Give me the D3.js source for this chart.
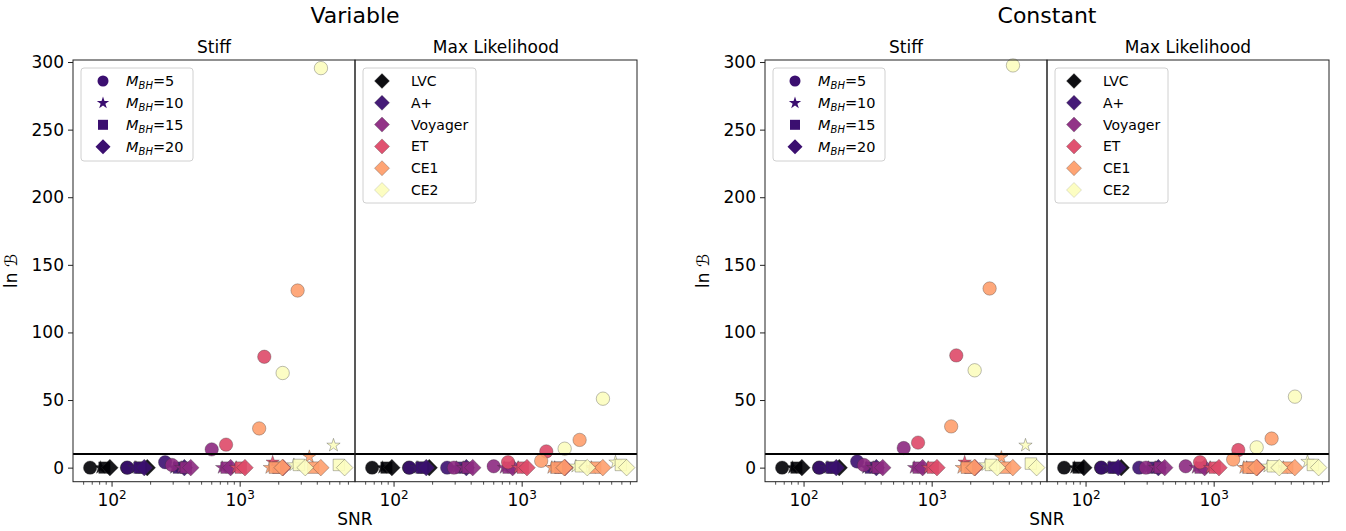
<!DOCTYPE html>
<html><head><meta charset="utf-8">
<script src="https://cdn.jsdelivr.net/npm/d3@7"></script>
<style>body{margin:0;background:#fff} text{font-family:"DejaVu Sans",sans-serif;fill:#000}</style>
</head><body><svg id="c" width="1346" height="531"></svg>
<script>
// ---------------- data ----------------
const detectors = ["LVC", "A+", "Voyager", "ET", "CE1", "CE2"];
const detectorColors = ["#000004", "#3b0f70", "#8c2981", "#de4968", "#fe9f6d", "#fcfdbf"];
const massValues = [5, 10, 15, 20];
const massShapes = ["circle", "star", "square", "diamond"];
// point order per detector: config 1 (M=5,10,15,20), config 2 (M=5,10,15,20)
const snrLVC     = [68, 82, 88, 97, 132, 155, 170, 190];
const snrAplus   = [133, 152, 165, 180, 262, 310, 335, 370];
const snrVoyager = [296, 350, 380, 415, 605, 730, 790, 850];
const snrET      = [783, 940, 1020, 1100, 1557, 1810, 2000, 2180];
const snrCE1     = [1420, 1720, 1880, 2150, 2834, 3500, 3750, 4300];
const snrCE2     = [2166, 2650, 2900, 3250, 4311, 5400, 5950, 6600];
const snrTable = [snrLVC, snrAplus, snrVoyager, snrET, snrCE1, snrCE2];

const lnbVariableStiff = [
  [0, 0, 0, 0, 0, 0, 0, 0],
  [0, 0, 0, 0, 4, 0, 0, 0],
  [2, 0, 0, 0, 13.5, 0, 0, 0],
  [17, 0, 0, 0, 82, 4, 0, 0],
  [29, 0, 0, 0, 131, 8, 0, 0],
  [70, 2, 2, 0, 295.5, 16.5, 2, 0]];
const lnbVariableML = [
  [0, 0, 0, 0, 0, 0, 0, 0],
  [0, 0, 0, 0, 0, 0, 0, 0],
  [0, 0, 0, 0, 1, 0, 0, 0],
  [4, 0, 0, 0, 12, 0, 0, 0],
  [5, 0, 0, 0, 20.5, 0, 0, 0],
  [14, 1, 1, 0, 51, 4, 2, 0]];
const lnbConstantStiff = [
  [0, 0, 0, 0, 0, 0, 0, 0],
  [0, 0, 0, 0, 4.5, 0, 0, 0],
  [2, 0, 0, 0, 14.5, 0, 0, 0],
  [18.5, 0, 0, 0, 83, 4, 0, 0],
  [30.5, 0, 0, 0, 132.5, 7.5, 0, 0],
  [72, 2, 2, 0, 297.5, 16.5, 3, 0]];
const lnbConstantML = [
  [0, 0, 0, 0, 0, 0, 0, 0],
  [0, 0, 0, 0, 0, 0, 0, 0],
  [0, 0, 0, 0, 1, 0, 0, 0],
  [4, 0, 0, 0, 13, 0, 0, 0],
  [6, 0, 0, 0, 21.5, 0, 0, 0],
  [15, 1, 1, 0, 52.5, 4.5, 2, 0]];
const threshold = 10;
const figureTitles = ["Variable", "Constant"];
const panelTitles = ["Stiff", "Max Likelihood"];
const yTicks = [0, 50, 100, 150, 200, 250, 300];
const xMajorTicks = [100, 1000];
const xMinorTicks = [60, 70, 80, 90, 200, 300, 400, 500, 600, 700, 800, 900, 2000, 3000, 4000, 5000, 6000, 7000];

// ---------------- drawing ----------------
const svg = d3.select("#c");
const yTop = 60, yBot = 481.7, pw = 282;
const y = d3.scaleLinear().domain([-10.4, 301.5]).range([yBot, yTop]);

function symPath(shape, s) {
  if (shape === "circle") return d3.symbol(d3.symbolCircle, Math.PI * s * s)();
  if (shape === "star") return d3.symbol(d3.symbolStar, s * s / 0.8908)();
  if (shape === "square") return d3.symbol(d3.symbolSquare, s * s)();
  return `M0,${-s}L${s},0L0,${s}L${-s},0Z`;
}
const plotSize = {circle: 6.7, star: 7, square: 11.5, diamond: 8.3};
const legSize = {circle: 5.5, star: 6.5, square: 10, diamond: 7.5};

const figs = [
  {title: figureTitles[0], x0: 73, lnb: [lnbVariableStiff, lnbVariableML]},
  {title: figureTitles[1], x0: 765, lnb: [lnbConstantStiff, lnbConstantML]}];

figs.forEach(fig => {
  const g = svg.append("g");
  const cx = fig.x0 + pw;
  g.append("text").attr("x", cx).attr("y", 23).attr("text-anchor", "middle")
    .attr("font-size", 22).text(fig.title);
  g.append("text").attr("x", cx).attr("y", 525).attr("text-anchor", "middle")
    .attr("font-size", 17).text("SNR");
  g.append("text").attr("transform", `translate(${fig.x0 - 56},${(yTop + yBot) / 2}) rotate(-90)`)
    .attr("text-anchor", "middle").attr("font-size", 17).text("ln \u212C");

  fig.lnb.forEach((lnb, pi) => {
    const px = fig.x0 + pi * pw;
    const x = d3.scaleLog().domain([50, 7950]).range([px, px + pw]);
    const pg = g.append("g");
    pg.append("text").attr("x", px + pw / 2).attr("y", 53).attr("text-anchor", "middle")
      .attr("font-size", 17).text(panelTitles[pi]);

    const pts = [];
    detectors.forEach((d, di) => {
      snrTable[di].forEach((s, k) => {
        pts.push({di, shape: massShapes[k % 4], snr: s, lnb: lnb[di][k]});
      });
    });
    pg.selectAll("path.pt").data(pts).join("path").attr("class", "pt")
      .attr("transform", d => `translate(${x(d.snr)},${y(d.lnb)})`)
      .attr("d", d => symPath(d.shape, plotSize[d.shape]))
      .attr("fill", d => detectorColors[d.di]).attr("fill-opacity", 0.9)
      .attr("stroke", "#333").attr("stroke-opacity", 0.55).attr("stroke-width", 0.6);

    pg.append("line").attr("x1", px).attr("x2", px + pw)
      .attr("y1", y(threshold)).attr("y2", y(threshold))
      .attr("stroke", "#000").attr("stroke-width", 2);

    const xa = pg.append("g").attr("transform", `translate(0,${yBot})`)
      .call(d3.axisBottom(x).tickValues(xMajorTicks).tickSize(5).tickPadding(6).tickFormat(() => ""));
    xa.select(".domain").remove();
    xa.selectAll(".tick line").attr("stroke", "#222");
    xa.selectAll(".tick text").each(function(v) {
      const t = d3.select(this).attr("font-size", 17).attr("font-family", "DejaVu Sans")
        .attr("fill", "#000").attr("dy", "0.78em");
      t.append("tspan").text("10");
      t.append("tspan").attr("font-size", 12).attr("dy", "-0.55em").text(Math.round(Math.log10(v)));
    });
    const xm = pg.append("g").attr("transform", `translate(0,${yBot})`)
      .call(d3.axisBottom(x).tickValues(xMinorTicks).tickSize(3).tickFormat(() => ""));
    xm.select(".domain").remove();
    xm.selectAll(".tick line").attr("stroke", "#222").attr("stroke-width", 0.8);

    if (pi === 0) {
      const ya = pg.append("g").attr("transform", `translate(${px},0)`)
        .call(d3.axisLeft(y).tickValues(yTicks).tickSize(5).tickPadding(4));
      ya.select(".domain").remove();
      ya.selectAll(".tick line").attr("stroke", "#222");
      ya.selectAll(".tick text").attr("font-size", 17).attr("font-family", "DejaVu Sans").attr("fill", "#000");
    }
    pg.append("rect").attr("x", px).attr("y", yTop).attr("width", pw).attr("height", yBot - yTop)
      .attr("fill", "none").attr("stroke", "#222").attr("stroke-width", 1);

    const lx = px + 8, ly = 68;
    if (pi === 0) {
      const lg = pg.append("g");
      lg.append("rect").attr("x", lx).attr("y", ly).attr("width", 112).attr("height", 93)
        .attr("rx", 3).attr("fill", "#fff").attr("fill-opacity", 0.8).attr("stroke", "#d0d0d0");
      massValues.forEach((m, i) => {
        const yy = 81 + i * 21.9;
        lg.append("path").attr("transform", `translate(${lx + 22},${yy})`)
          .attr("d", symPath(massShapes[i], legSize[massShapes[i]])).attr("fill", detectorColors[1]);
        const t = lg.append("text").attr("x", lx + 45).attr("y", yy + 5).attr("font-size", 14.5);
        t.append("tspan").attr("font-style", "italic").text("M");
        t.append("tspan").attr("font-style", "italic").attr("font-size", 10).attr("dy", 3).text("BH");
        t.append("tspan").attr("dy", -3).text("=" + m);
      });
    } else {
      const lg = pg.append("g");
      lg.append("rect").attr("x", lx).attr("y", ly).attr("width", 113).attr("height", 135)
        .attr("rx", 3).attr("fill", "#fff").attr("fill-opacity", 0.8).attr("stroke", "#d0d0d0");
      detectors.forEach((d, i) => {
        const yy = 81 + i * 21.8;
        lg.append("path").attr("transform", `translate(${lx + 19},${yy})`)
          .attr("d", symPath("diamond", legSize.diamond)).attr("fill", detectorColors[i])
          .attr("fill-opacity", 0.95).attr("stroke", "#333").attr("stroke-opacity", i === 5 ? 0.25 : 0.5).attr("stroke-width", 0.6);
        lg.append("text").attr("x", lx + 48).attr("y", yy + 5).attr("font-size", 14).text(d);
      });
    }
  });
});
</script></body></html>
